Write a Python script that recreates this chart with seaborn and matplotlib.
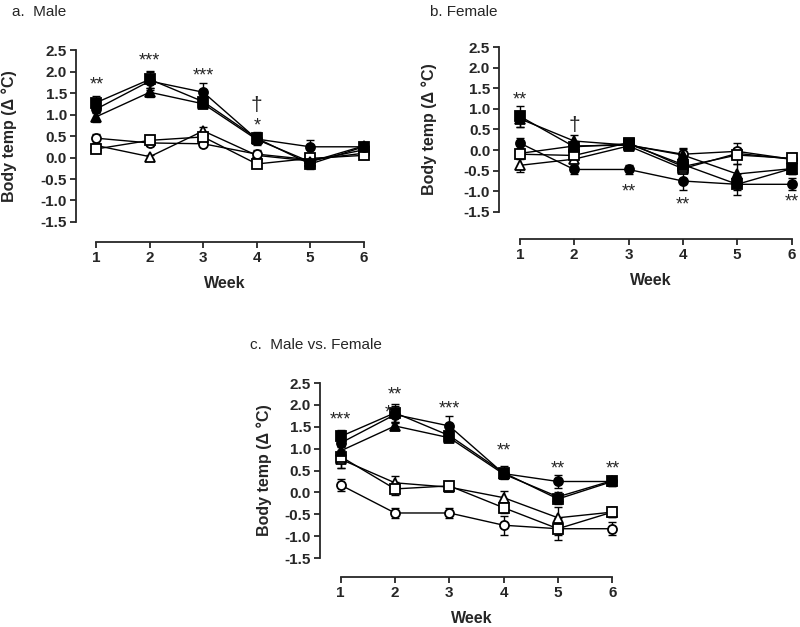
"""Body temperature change by week: male, female and male vs. female panels."""

import matplotlib.pyplot as plt
import seaborn as sns

WEEKS = [1, 2, 3, 4, 5, 6]

# male groups (filled = treated, open = control)
MALE_SQ = [1.28, 1.82, 1.30, 0.45, -0.15, 0.25]
MALE_SQ_ERR = [0.15, 0.20, 0.10, 0.15, 0.12, 0.10]
MALE_CI = [1.13, 1.78, 1.52, 0.43, 0.25, 0.25]
MALE_CI_ERR = [0.10, 0.20, 0.22, 0.10, 0.15, 0.10]
MALE_TR = [0.95, 1.52, 1.25, 0.42, -0.10, 0.27]
MALE_TR_ERR = [0.12, 0.10, 0.08, 0.10, 0.10, 0.10]
MALE_CTRL_SQ = [0.20, 0.40, 0.48, -0.15, -0.02, 0.05]
MALE_CTRL_SQ_ERR = [0.08, 0.06, 0.10, 0.06, 0.08, 0.08]
MALE_CTRL_CI = [0.45, 0.34, 0.32, 0.08, -0.05, 0.10]
MALE_CTRL_CI_ERR = [0.10, 0.06, 0.06, 0.10, 0.08, 0.08]
MALE_CTRL_TR = [0.28, 0.02, 0.62, 0.05, -0.08, 0.18]
MALE_CTRL_TR_ERR = [0.06, 0.05, 0.10, 0.06, 0.08, 0.08]

# female groups
FEMALE_SQ = [0.82, 0.08, 0.15, -0.35, -0.83, -0.45]
FEMALE_SQ_ERR = [0.25, 0.15, 0.08, 0.12, 0.25, 0.12]
FEMALE_CI = [0.17, -0.47, -0.47, -0.75, -0.83, -0.83]
FEMALE_CI_ERR = [0.13, 0.12, 0.12, 0.22, 0.15, 0.15]
FEMALE_TR = [0.76, 0.22, 0.12, -0.12, -0.58, -0.45]
FEMALE_TR_ERR = [0.20, 0.15, 0.08, 0.15, 0.25, 0.12]
FEMALE_CTRL_SQ = [-0.10, -0.13, 0.18, -0.40, -0.12, -0.20]
FEMALE_CTRL_SQ_ERR = [0.08, 0.08, 0.08, 0.10, 0.10, 0.10]
FEMALE_CTRL_CI = [-0.08, 0.10, 0.12, -0.10, -0.03, -0.22]
FEMALE_CTRL_CI_ERR = [0.08, 0.08, 0.08, 0.15, 0.08, 0.15]
FEMALE_CTRL_TR = [-0.37, -0.22, 0.10, -0.45, -0.08, -0.22]
FEMALE_CTRL_TR_ERR = [0.15, 0.08, 0.08, 0.10, 0.25, 0.10]

# significance marks: (week, y, text)
SIG_MALE = [(1, 1.68, "**"), (2, 2.24, "***"), (3, 1.9, "***"), (4, 1.2, "†"), (4, 0.74, "*")]
SIG_FEMALE = [(1, 1.22, "**"), (2, 0.6, "†"), (3, -1.02, "**"), (4, -1.34, "**"), (6, -1.26, "**")]
SIG_BOTH = [(1, 1.66, "***"), (2, 2.22, "**"), (1.88, 1.82, "*"), (3, 1.9, "***"),
            (4, 0.95, "**"), (5, 0.54, "**"), (6, 0.54, "**")]


def draw_series(ax, y, err, marker, filled):
    ax.errorbar(WEEKS, y, yerr=err, fmt="none", ecolor="black", elinewidth=1.0,
                capsize=3, capthick=1.0, zorder=2, clip_on=False)
    sns.lineplot(x=WEEKS, y=y, ax=ax, color="black", linewidth=1.0, marker=marker,
                 markersize=6.5 if marker != "^" else 7, markerfacecolor="black" if filled else "white",
                 markeredgecolor="black", markeredgewidth=1.3, zorder=3, clip_on=False)


def style_axes(ax, offset, ypad):
    ax.set_xlim(0.62, 6.2)
    ax.set_ylim(-1.5, 2.5)
    ax.set_yticks([-1.5, -1.0, -0.5, 0.0, 0.5, 1.0, 1.5, 2.0, 2.5])
    ax.set_yticklabels([f"{v:.1f}" for v in ax.get_yticks()])
    ax.set_xticks(WEEKS)
    ax.spines["bottom"].set_position(("outward", offset))
    ax.spines["bottom"].set_bounds(1, 6)
    ax.spines["left"].set_bounds(-1.5, 2.5)
    for side in ("top", "right"):
        ax.spines[side].set_visible(False)
    for side in ("left", "bottom"):
        ax.spines[side].set_linewidth(1.3)
    ax.tick_params(width=1.3, length=4.5, labelsize=11, pad=2)
    for lab in ax.get_xticklabels() + ax.get_yticklabels():
        lab.set_fontweight("bold")
    ax.set_xlabel("Week", fontsize=11.5, fontweight="bold", labelpad=8)
    ax.set_ylabel("Body temp (Δ °C)", fontsize=11.5, fontweight="bold", labelpad=ypad)


def add_marks(ax, marks):
    for x, y, s in marks:
        size = 15 if s == "†" else 13
        ax.text(x, y, s, ha="center", va="center", fontsize=size, clip_on=False)


def main():
    sns.set_style("ticks")
    plt.rcParams["font.family"] = ["Liberation Sans", "DejaVu Sans"]
    fig = plt.figure(figsize=(8, 6.27), dpi=100)

    ax_a = fig.add_axes([0.095, 0.646, 0.373, 0.274])
    draw_series(ax_a, MALE_CTRL_TR, MALE_CTRL_TR_ERR, "^", False)
    draw_series(ax_a, MALE_CTRL_CI, MALE_CTRL_CI_ERR, "o", False)
    draw_series(ax_a, MALE_CTRL_SQ, MALE_CTRL_SQ_ERR, "s", False)
    draw_series(ax_a, MALE_TR, MALE_TR_ERR, "^", True)
    draw_series(ax_a, MALE_CI, MALE_CI_ERR, "o", True)
    draw_series(ax_a, MALE_SQ, MALE_SQ_ERR, "s", True)
    style_axes(ax_a, 14.5, 17)
    add_marks(ax_a, SIG_MALE)

    ax_b = fig.add_axes([0.624, 0.662, 0.379, 0.263])
    draw_series(ax_b, FEMALE_CTRL_TR, FEMALE_CTRL_TR_ERR, "^", False)
    draw_series(ax_b, FEMALE_CTRL_CI, FEMALE_CTRL_CI_ERR, "o", False)
    draw_series(ax_b, FEMALE_CTRL_SQ, FEMALE_CTRL_SQ_ERR, "s", False)
    draw_series(ax_b, FEMALE_TR, FEMALE_TR_ERR, "^", True)
    draw_series(ax_b, FEMALE_CI, FEMALE_CI_ERR, "o", True)
    draw_series(ax_b, FEMALE_SQ, FEMALE_SQ_ERR, "s", True)
    style_axes(ax_b, 19.5, 19)
    add_marks(ax_b, SIG_FEMALE)

    ax_c = fig.add_axes([0.40, 0.110, 0.379, 0.279])
    draw_series(ax_c, FEMALE_TR, FEMALE_TR_ERR, "^", False)
    draw_series(ax_c, FEMALE_CI, FEMALE_CI_ERR, "o", False)
    draw_series(ax_c, FEMALE_SQ, FEMALE_SQ_ERR, "s", False)
    draw_series(ax_c, MALE_TR, MALE_TR_ERR, "^", True)
    draw_series(ax_c, MALE_CI, MALE_CI_ERR, "o", True)
    draw_series(ax_c, MALE_SQ, MALE_SQ_ERR, "s", True)
    style_axes(ax_c, 13.5, 9)
    add_marks(ax_c, SIG_BOTH)

    fig.text(12 / 800, 1 - 12 / 627, "a.  Male", fontsize=11, va="center", ha="left")
    fig.text(430 / 800, 1 - 12 / 627, "b. Female", fontsize=11, va="center", ha="left")
    fig.text(250 / 800, 1 - 345 / 627, "c.  Male vs. Female", fontsize=11, va="center", ha="left")

    fig.savefig("out.png", dpi=100)
    plt.close(fig)


if __name__ == "__main__":
    main()
